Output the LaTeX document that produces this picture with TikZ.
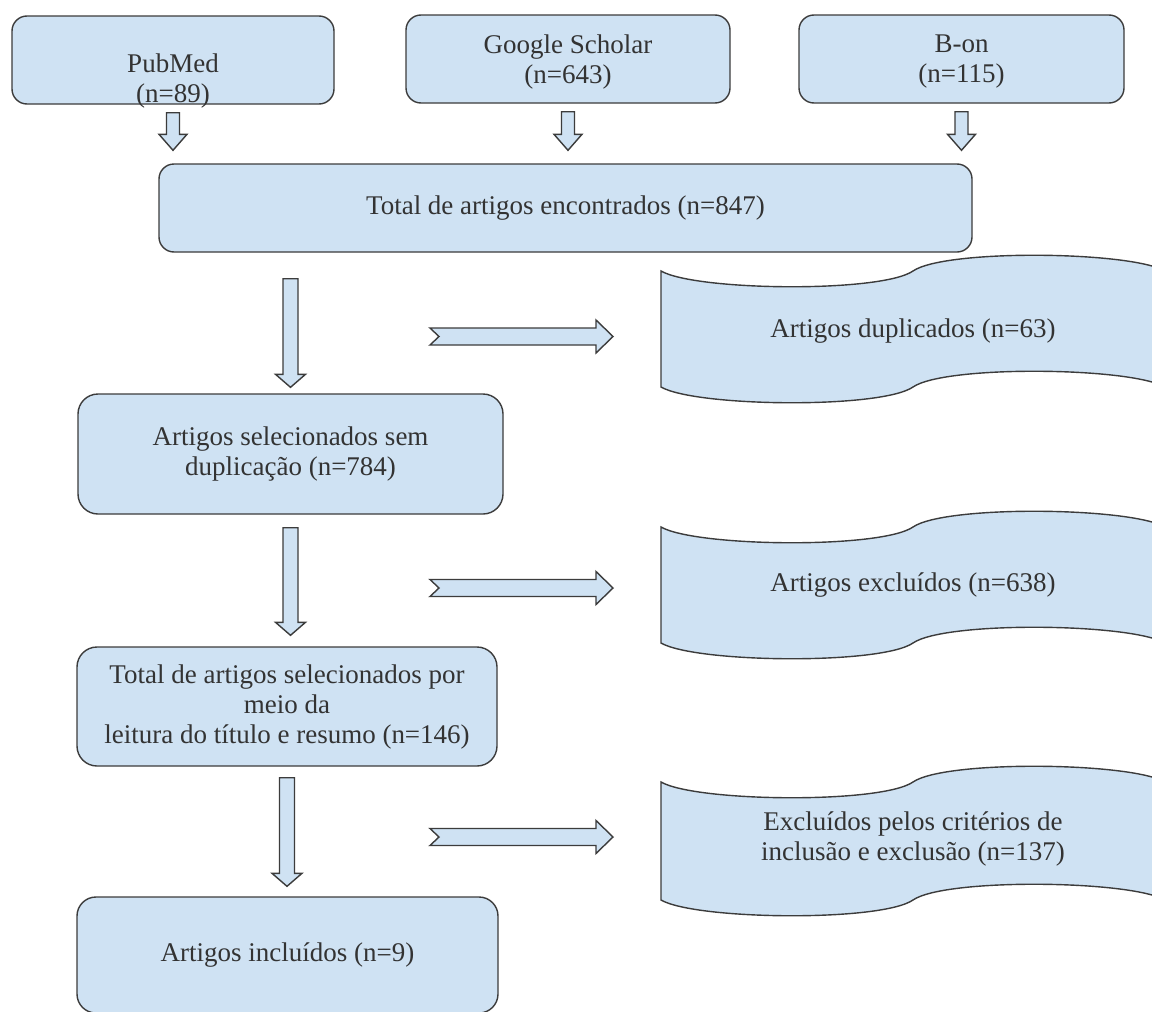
\documentclass[tikz,border=0pt]{standalone}
\usepackage{fontspec}
\setmainfont{Liberation Serif}
\usetikzlibrary{calc}
\definecolor{boxfill}{HTML}{CFE2F3}
\definecolor{boxline}{HTML}{3C3C3C}
\definecolor{txt}{HTML}{333333}
\tikzset{
 box/.style={draw=boxline, fill=boxfill, line width=1.4pt, align=center, text=txt, font=\fontsize{27}{30}\selectfont, inner sep=0pt},
 lbl/.style={align=center, text=txt, font=\fontsize{27}{30}\selectfont, inner sep=0pt},
 blk/.style={draw=boxline, fill=boxfill, line width=1.4pt, line join=miter},
 tapestyle/.style={draw=boxline, fill=boxfill, line width=1.4pt},
}
% vertical block arrow: #1 top, #2 tip, #3 shaft half width, #4 head half width, #5 head length
\newcommand\vblock[5]{\draw[blk] let \p1=(#1), \p2=(#2) in
 (\x1-#3,\y1) -- (\x1+#3,\y1) -- (\x1+#3,\y2+#5) -- (\x1+#4,\y2+#5) -- (\x1,\y2)
 -- (\x1-#4,\y2+#5) -- (\x1-#3,\y2+#5) -- cycle;}
% horizontal notched block arrow: #1 tail, #2 tip
\newcommand\hblock[2]{\draw[blk] let \p1=(#1), \p2=(#2) in
 (\x1,\y1+8.5pt) -- (\x2-17pt,\y1+8.5pt) -- (\x2-17pt,\y1+16.5pt) -- (\x2,\y1)
 -- (\x2-17pt,\y1-16.5pt) -- (\x2-17pt,\y1-8.5pt) -- (\x1,\y1-8.5pt) -- (\x1+9pt,\y1) -- cycle;}
% tape (wave) shape: #1 left x, #2 top y, #3 height
\newcommand\tapepath[3]{%
\draw[tapestyle] (#1,#2) .. controls (#1+35,#2+20) and (#1+220,#2+22) .. (#1+252,#2)
 .. controls (#1+284,#2-22) and (#1+469,#2-20) .. (#1+504,#2)
 -- (#1+504,#2+#3) .. controls (#1+469,#2+#3-20) and (#1+284,#2+#3-22) .. (#1+252,#2+#3)
 .. controls (#1+220,#2+#3+22) and (#1+35,#2+#3+20) .. (#1,#2+#3) -- cycle;}
\begin{document}
\begin{tikzpicture}[x=1pt,y=-1pt]
\useasboundingbox (0,0) rectangle (1152,1012);
\fill[white] (0,0) rectangle (1152,1012);

% top source boxes
\node[box, minimum width=322, minimum height=88, rounded corners=15] (pub) at (173,60) {};
\node[lbl] (pubt) at (173,81) {PubMed\\(n=89)};
\node[box, minimum width=324, minimum height=88, rounded corners=15] (gs) at (568,59) {};
\node[lbl] (gst) at (568,62) {Google Scholar\\(n=643)};
\node[box, minimum width=325, minimum height=88, rounded corners=15] (bon) at (961.5,59) {};
\node[lbl] (bont) at (961.5,62) {B-on\\(n=115)};

% total box
\node[box, minimum width=813, minimum height=88, rounded corners=15] (total) at (565.5,208) {Total de artigos encontrados (n=847)};

% left column
\node[box, minimum width=425, minimum height=120, rounded corners=20] (b2) at (290.5,454) {Artigos selecionados sem\\duplicação (n=784)};
\node[box, minimum width=420, minimum height=119, rounded corners=20] (b3) at (287,706.5) {Total de artigos selecionados por\\meio da\\leitura do título e resumo (n=146)};
\node[box, minimum width=421, minimum height=116, rounded corners=19] (b4) at (287.5,955) {Artigos incluídos (n=9)};

% tapes
\tapepath{661}{271}{116}
\node[lbl] (t1) at (913,331) {Artigos duplicados (n=63)};
\tapepath{661}{527}{116}
\node[lbl] (t2) at (913,585) {Artigos excluídos (n=638)};
\tapepath{661}{782}{118}
\node[lbl] (t3) at (913,839) {Excluídos pelos critérios de\\inclusão e exclusão (n=137)};

% small down arrows
\vblock{$(pub.south)+(0,8)$}{$(pub.south |- total.north)+(0,-13)$}{6.5pt}{14pt}{16pt}
\vblock{$(gs.south)+(0,8)$}{$(gs.south |- total.north)+(0,-13)$}{6.5pt}{14pt}{16pt}
\vblock{$(bon.south)+(0,8)$}{$(bon.south |- total.north)+(0,-13)$}{6.5pt}{14pt}{16pt}

% big down arrows
\vblock{$(b2.north |- total.south)+(0,26)$}{$(b2.north)+(0,-6)$}{7.5pt}{15pt}{13pt}
\vblock{$(b2.south)+(0,13)$}{$(b2.south |- b3.north)+(0,-11)$}{7.5pt}{15pt}{13pt}
\vblock{$(b3.south)+(0,11)$}{$(b3.south |- b4.north)+(0,-10)$}{7.5pt}{15pt}{13pt}

% right arrows
\coordinate (r1a) at (430,336.5);
\coordinate (r1b) at (613,336.5);
\coordinate (r2a) at (430,588);
\coordinate (r2b) at (613,588);
\coordinate (r3a) at (430,837);
\coordinate (r3b) at (613,837);
\hblock{r1a}{r1b}
\hblock{r2a}{r2b}
\hblock{r3a}{r3b}
\end{tikzpicture}
\end{document}
